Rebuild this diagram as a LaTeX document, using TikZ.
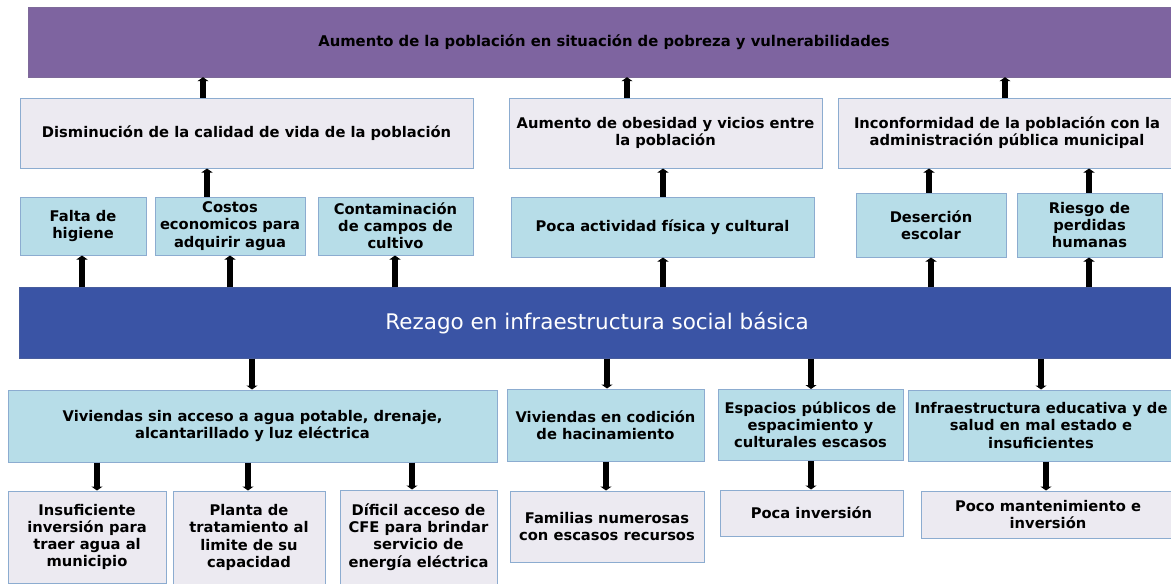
\documentclass[tikz,border=0pt]{standalone}
\usepackage{fontspec}
\setmainfont{DejaVu Sans}
\usetikzlibrary{arrows.meta, positioning}
\definecolor{moradoFin}{RGB}{126, 100, 160}
\definecolor{azulProblema}{RGB}{58, 84, 165}
\definecolor{celesteCausa}{RGB}{183, 221, 232}
\definecolor{lilaEfecto}{RGB}{236, 234, 241}
\definecolor{bordeCaja}{RGB}{140, 172, 208}

\begin{document}
\begin{tikzpicture}[x=1pt, y=-1pt,
            caja/.style={rectangle, draw=bordeCaja, line width=1pt, inner sep=2pt, align=center,
                font=\fontsize{14.7}{17.2}\selectfont\bfseries},
            efecto/.style={caja, fill=lilaEfecto},
            causa/.style={caja, fill=celesteCausa},
            fin/.style={rectangle, draw=moradoFin!80!gray, fill=moradoFin, align=center,
                font=\fontsize{14.8}{17}\selectfont\bfseries},
            problema/.style={rectangle, draw=azulProblema!80!gray, fill=azulProblema, text=white,
                align=center, font=\fontsize{21.5}{25}\selectfont},
            flecha/.style={-{Triangle[length=4pt, width=11pt]}, line width=6pt, black}]

            \useasboundingbox (0,0) rectangle (1171,584);
            \clip (0,0) rectangle (1171,584);

            % fin
            \node[fin, minimum width=1152pt, minimum height=70pt] (fin) at (604,42)
                {Aumento de la población en situación de pobreza y vulnerabilidades};

            % efectos
            \node[efecto, minimum width=453pt, minimum height=70pt] (dism) at (246.5,133)
                {Disminución de la calidad de vida de la población};
            \node[efecto, minimum width=313pt, minimum height=70pt] (obes) at (665.5,133)
                {Aumento de obesidad y vicios entre\\la población};
            \node[efecto, minimum width=338pt, minimum height=70pt] (inco) at (1007,133)
                {Inconformidad de la población con la\\administración pública municipal};

            \node[causa, minimum width=126pt, minimum height=58pt] (falta) at (83,226)
                {Falta de\\higiene};
            \node[causa, minimum width=150pt, minimum height=58pt] (cost) at (230,226)
                {Costos\\economicos para\\adquirir agua};
            \node[causa, minimum width=155pt, minimum height=58pt] (cont) at (395.5,226)
                {Contaminación\\de campos de\\cultivo};
            \node[causa, minimum width=303pt, minimum height=60pt] (poca) at (662.5,227)
                {Poca actividad física y cultural};
            \node[causa, minimum width=150pt, minimum height=64pt] (dese) at (931,225)
                {Deserción\\escolar};
            \node[causa, minimum width=145pt, minimum height=64pt] (ries) at (1089.5,225)
                {Riesgo de\\perdidas\\humanas};

            % problema central
            \node[problema, minimum width=1156pt, minimum height=71pt] (rez) at (597,323)
                {Rezago en infraestructura social básica};

            % causas
            \node[causa, minimum width=489pt, minimum height=72pt] (viv) at (252.5,426)
                {Viviendas sin acceso a agua potable, drenaje,\\alcantarillado y luz eléctrica};
            \node[causa, minimum width=197pt, minimum height=72pt] (haci) at (605.5,425)
                {Viviendas en codición\\de hacinamiento};
            \node[causa, minimum width=185pt, minimum height=71pt] (espa) at (810.5,425)
                {Espacios públicos de\\espacimiento y\\culturales escasos};
            \node[causa, minimum width=266pt, minimum height=71pt] (infr) at (1041,425.5)
                {Infraestructura educativa y de\\salud en mal estado e\\insuficientes};

            \node[efecto, minimum width=158pt, minimum height=92pt] (insu) at (87,537)
                {Insuficiente\\inversión para\\traer agua al\\municipio};
            \node[efecto, minimum width=152pt, minimum height=93pt] (plan) at (249,537.5)
                {Planta de\\tratamiento al\\limite de su\\capacidad};
            \node[efecto, minimum width=157pt, minimum height=94pt] (dif) at (418.5,537)
                {Díficil acceso de\\CFE para brindar\\servicio de\\energía eléctrica};
            \node[efecto, minimum width=194pt, minimum height=71pt] (fam) at (607,526.5)
                {Familias numerosas\\con escasos recursos};
            \node[efecto, minimum width=183pt, minimum height=46pt] (pinv) at (811.5,513)
                {Poca inversión};
            \node[efecto, minimum width=254pt, minimum height=47pt] (pman) at (1048,514.5)
                {Poco mantenimiento e\\inversión};

            % flechas hacia arriba
            \foreach \de/\a/\x in {dism/fin/203, obes/fin/627, inco/fin/1005,
                    cost/dism/207, poca/obes/663, dese/inco/929, ries/inco/1089,
                    rez/falta/82, rez/cost/230, rez/cont/395, rez/poca/663, rez/dese/931, rez/ries/1089}
                \draw[flecha] (\de.north -| \x,0) -- (\a.south -| \x,0);

            % flechas hacia abajo
            \foreach \de/\a/\x in {rez/viv/252, rez/haci/607, rez/espa/811, rez/infr/1041,
                    viv/insu/97, viv/plan/248, viv/dif/412, haci/fam/606, espa/pinv/811, infr/pman/1046}
                \draw[flecha] (\de.south -| \x,0) -- (\a.north -| \x,0);
        \end{tikzpicture}
\end{document}
